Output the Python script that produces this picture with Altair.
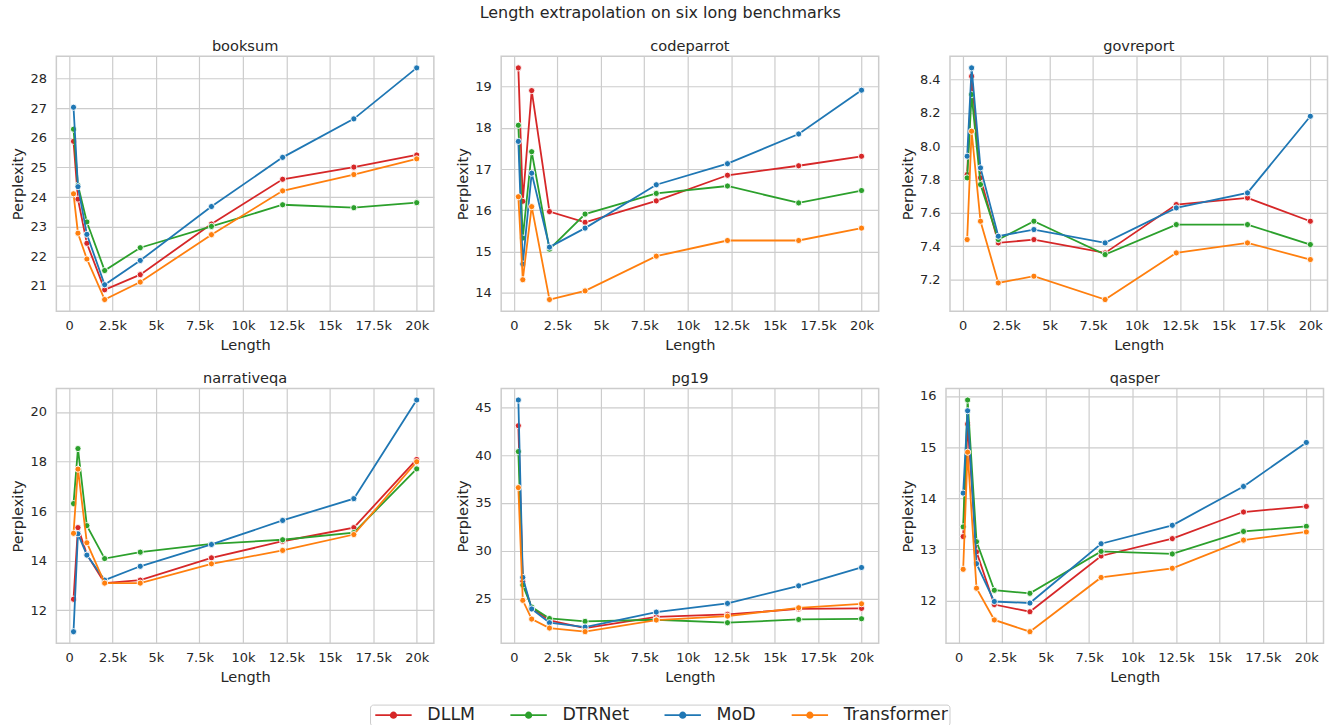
import altair as alt
import pandas as pd

# ---------------- data ----------------
LENGTHS = [256, 512, 1024, 2048, 4096, 8192, 12288, 16384, 20000]
MODELS = ["DLLM", "DTRNet", "MoD", "Transformer"]
COLORS = ["#d62728", "#2ca02c", "#1f77b4", "#ff7f0e"]

booksum = {
    "DLLM":        [25.88, 23.93, 22.44, 20.87, 21.38, 23.09, 24.60, 25.01, 25.42],
    "DTRNet":      [26.29, 24.40, 23.16, 21.52, 22.29, 23.01, 23.74, 23.64, 23.81],
    "MoD":         [27.03, 24.35, 22.74, 21.04, 21.86, 23.68, 25.34, 26.64, 28.36],
    "Transformer": [24.11, 22.78, 21.91, 20.54, 21.13, 22.73, 24.21, 24.76, 25.29],
}
codeparrot = {
    "DLLM":        [19.45, 16.22, 18.90, 15.97, 15.71, 16.23, 16.85, 17.08, 17.31],
    "DTRNet":      [18.06, 15.33, 17.42, 15.06, 15.91, 16.41, 16.59, 16.18, 16.48],
    "MoD":         [17.67, 14.70, 16.90, 15.11, 15.57, 16.62, 17.13, 17.85, 18.91],
    "Transformer": [16.33, 14.32, 16.09, 13.84, 14.05, 14.89, 15.27, 15.27, 15.57],
}
govreport = {
    "DLLM":        [7.83, 8.42, 7.81, 7.42, 7.44, 7.36, 7.65, 7.69, 7.55],
    "DTRNet":      [7.81, 8.31, 7.77, 7.44, 7.55, 7.35, 7.53, 7.53, 7.41],
    "MoD":         [7.94, 8.47, 7.87, 7.46, 7.50, 7.42, 7.63, 7.72, 8.18],
    "Transformer": [7.44, 8.09, 7.55, 7.18, 7.22, 7.08, 7.36, 7.42, 7.32],
}
narrativeqa = {
    "DLLM":        [12.44, 15.33, 14.25, 13.09, 13.21, 14.11, 14.78, 15.33, 18.08],
    "DTRNet":      [16.30, 18.52, 15.41, 14.08, 14.34, 14.67, 14.84, 15.13, 17.70],
    "MoD":         [11.13, 15.08, 14.22, 13.21, 13.77, 14.65, 15.62, 16.50, 20.48],
    "Transformer": [15.10, 17.69, 14.72, 13.09, 13.09, 13.87, 14.41, 15.05, 17.99],
}
pg19 = {
    "DLLM":        [43.08, 26.80, 24.00, 22.70, 21.90, 23.08, 23.33, 23.90, 23.96],
    "DTRNet":      [40.37, 26.40, 24.10, 22.90, 22.60, 22.77, 22.46, 22.80, 22.87],
    "MoD":         [45.77, 27.20, 23.90, 22.46, 22.00, 23.57, 24.48, 26.32, 28.24],
    "Transformer": [36.60, 24.80, 22.84, 21.90, 21.52, 22.74, 23.15, 24.02, 24.44],
}
qasper = {
    "DLLM":        [13.25, 15.45, 12.95, 11.92, 11.78, 12.87, 13.21, 13.73, 13.84],
    "DTRNet":      [13.44, 15.92, 13.15, 12.20, 12.14, 12.96, 12.91, 13.35, 13.45],
    "MoD":         [14.10, 15.71, 12.72, 11.98, 11.95, 13.11, 13.47, 14.23, 15.09],
    "Transformer": [12.61, 14.90, 12.24, 11.62, 11.39, 12.45, 12.63, 13.18, 13.34],
}

X_TICKS = [0, 2500, 5000, 7500, 10000, 12500, 15000, 17500, 20000]
BOOKSUM_TICKS = [21, 22, 23, 24, 25, 26, 27, 28]
CODEPARROT_TICKS = [14, 15, 16, 17, 18, 19]
GOVREPORT_TICKS = [7.2, 7.4, 7.6, 7.8, 8.0, 8.2, 8.4]
NARRATIVEQA_TICKS = [12, 14, 16, 18, 20]
PG19_TICKS = [25, 30, 35, 40, 45]
QASPER_TICKS = [12, 13, 14, 15, 16]

# ---------------- style ----------------
FONT = "DejaVu Sans"
TEXT = "#262626"
GRID = "#cccccc"
PANEL_W = 378.5
PANEL_H = 255.5
# legend glyph: a short line with a dot in the middle (units of sqrt(size)/2)
LEGEND_SYMBOL = "M-2.4,0L2.4,0M-0.36,0A0.36,0.36,0,1,1,0.36,0A0.36,0.36,0,1,1,-0.36,0Z"

span = LENGTHS[-1] - LENGTHS[0]
X_DOMAIN = [LENGTHS[0] - 0.05 * span, LENGTHS[-1] + 0.05 * span]
cscale = alt.Scale(domain=MODELS, range=COLORS)


def panel(name, series, yticks, yfmt):
    rows = []
    for m in MODELS:
        for length, v in zip(LENGTHS, series[m]):
            rows.append({"Length": length, "Perplexity": v, "Model": m})
    df = pd.DataFrame(rows)
    vals = [v for m in MODELS for v in series[m]]
    lo, hi = min(vals), max(vals)
    pad = 0.05 * (hi - lo)
    x = alt.X(
        "Length:Q",
        scale=alt.Scale(domain=X_DOMAIN, nice=False, zero=False),
        axis=alt.Axis(
            values=X_TICKS,
            labelExpr="datum.value == 0 ? '0' : format(datum.value / 1000, '~g') + 'k'",
            title="Length",
            labelOverlap=False,
            labelFlush=False,
        ),
    )
    y = alt.Y(
        "Perplexity:Q",
        scale=alt.Scale(domain=[lo - pad, hi + pad], nice=False, zero=False),
        axis=alt.Axis(values=yticks, format=yfmt, title="Perplexity",
                      labelOverlap=False, labelFlush=False),
    )
    base = alt.Chart(df)
    layers = [
        base.mark_point(filled=True, size=10, opacity=1).encode(
            x=x, y=y,
            color=alt.Color("Model:N", scale=cscale, legend=alt.Legend(title=None)),
            stroke=alt.Stroke("Model:N", scale=cscale, legend=alt.Legend(title=None)),
        )
    ]
    for m in MODELS:
        sub = base.transform_filter(alt.datum.Model == m)
        layers.append(
            sub.mark_line(strokeWidth=1.8).encode(
                x=x, y=y, color=alt.Color("Model:N", scale=cscale, legend=None)
            )
        )
        layers.append(
            sub.mark_point(filled=True, size=38, opacity=1, stroke="white", strokeWidth=0.9).encode(
                x=x, y=y, color=alt.Color("Model:N", scale=cscale, legend=None)
            )
        )
    return alt.layer(*layers).properties(
        width=PANEL_W,
        height=PANEL_H,
        title=alt.TitleParams(name, fontSize=14.6, font=FONT, color=TEXT,
                              fontWeight="normal", offset=3, anchor="middle"),
    )


row1 = alt.hconcat(
    panel("booksum", booksum, BOOKSUM_TICKS, "d"),
    panel("codeparrot", codeparrot, CODEPARROT_TICKS, "d"),
    panel("govreport", govreport, GOVREPORT_TICKS, ".1f"),
    spacing=19,
)
row2 = alt.hconcat(
    panel("narrativeqa", narrativeqa, NARRATIVEQA_TICKS, "d"),
    panel("pg19", pg19, PG19_TICKS, "d"),
    panel("qasper", qasper, QASPER_TICKS, "d"),
    spacing=19,
)

chart = (
    alt.vconcat(row1, row2, spacing=16)
    .resolve_scale(color="shared", stroke="shared")
    .properties(
        title=alt.TitleParams("Length extrapolation on six long benchmarks", fontSize=16,
                              font=FONT, color=TEXT, fontWeight="normal",
                              anchor="middle", offset=17, dx=-9),
        padding={"left": 9.5, "top": 3.5, "right": 0, "bottom": 0},
        background="white",
    )
    .configure_axis(
        labelFont=FONT, labelFontSize=13, labelColor=TEXT,
        titleFont=FONT, titleFontSize=14.6, titleColor=TEXT, titleFontWeight="normal",
        grid=True, gridColor=GRID, gridWidth=1.2, domain=False, ticks=False,
    )
    .configure_axisX(labelPadding=8.5, titlePadding=5)
    .configure_axisY(labelPadding=10, titlePadding=4)
    .configure_view(stroke=GRID, strokeWidth=1.5)
    .configure_legend(
        orient="none", legendX=314.5, legendY=650, direction="horizontal",
        symbolType=LEGEND_SYMBOL, symbolSize=231, symbolStrokeWidth=1.8,
        symbolOffset=13.3, labelOffset=25.3, columnPadding=31.5,
        labelFont=FONT, labelFontSize=17.4, labelColor=TEXT,
        strokeColor=GRID, fillColor="white", padding=1.5, cornerRadius=3,
    )
)

chart.save("out.html", embed_options={"renderer": "svg", "actions": False})
